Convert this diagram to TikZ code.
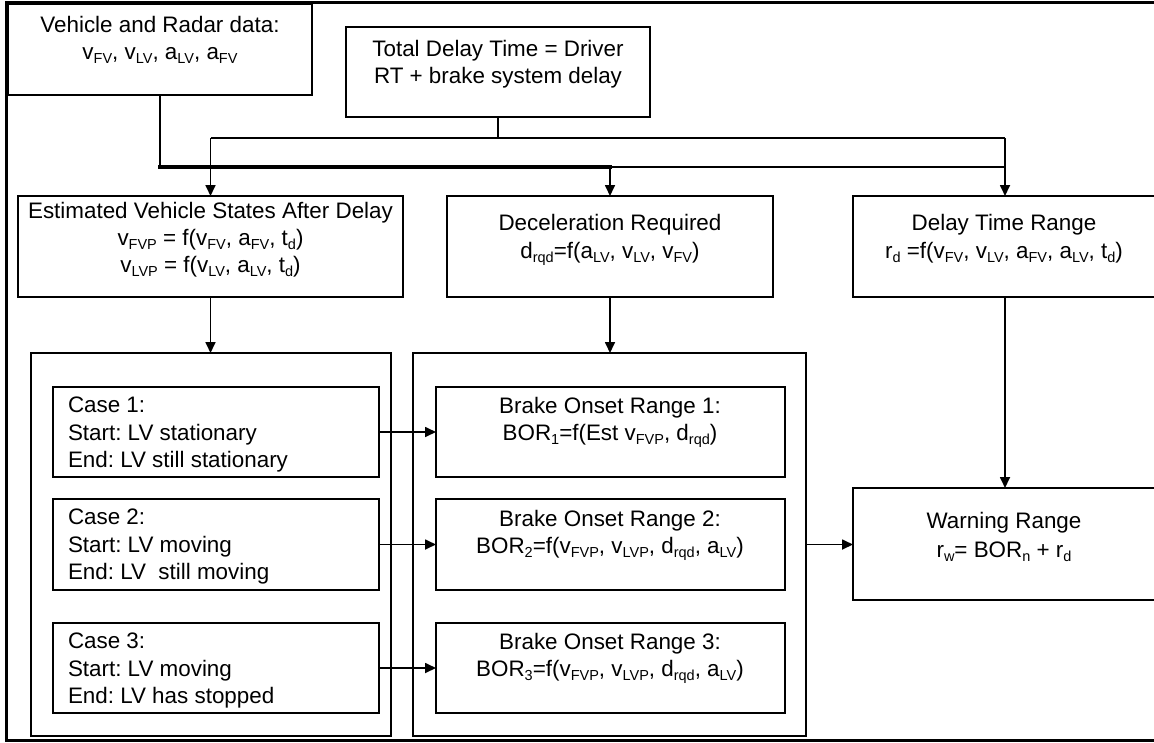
\documentclass[tikz,border=0pt]{standalone}
\usepackage{fontspec}
\setmainfont{Liberation Sans}
\usetikzlibrary{arrows.meta}
\frenchspacing
\newcommand{\sbs}[1]{\raisebox{-3.8pt}{\fontsize{14.5}{14.5}\selectfont #1}}
\newcommand{\bx}[5]{\node[box, minimum width={(#4)-(#2)}, minimum height={(#5)-(#3)}] (#1) at ({((#2)+(#4))/2},{((#3)+(#5))/2}) {};}
\begin{document}
\begin{tikzpicture}[x=1pt,y=-1pt,
  box/.style={draw, line width=1.4pt, rectangle, inner sep=0pt, outer sep=0pt},
  txt/.style={inner sep=0pt, outer sep=0pt, anchor=north, align=center, font=\fontsize{22.4}{27}\selectfont},
  ltxt/.style={txt, align=left, anchor=north west},
  conn/.style={line width=1.7pt},
  arr/.style={conn, -{Triangle[length=11pt,width=10pt]}},
  bus/.style={line width=3.2pt, line cap=rect},
  frame/.style={line width=3pt}
]
\useasboundingbox (0,0) rectangle (1154,742);
\clip (0,0) rectangle (1154,742);

% boxes
\bx{veh}{8}{4}{312}{95}
\bx{tot}{346}{27}{650}{117}
\bx{est}{18}{196}{403}{297}
\bx{dec}{447}{196}{773}{297}
\bx{dtr}{853}{196}{1157}{297}
\bx{cf}{31}{353}{391}{736}
\bx{bf}{413}{353}{806}{736}
\bx{c1}{53}{387}{379}{477}
\bx{c2}{53}{499}{379}{590}
\bx{c3}{53}{623}{379}{713}
\bx{b1}{436}{387}{785}{477}
\bx{b2}{436}{499}{785}{590}
\bx{b3}{436}{623}{785}{713}
\bx{warn}{853}{488}{1157}{600}

% texts
\node[txt] (vehT) at (160,16) {Vehicle and Radar data:\\v\sbs{FV}, v\sbs{LV}, a\sbs{LV}, a\sbs{FV}};
\node[txt] (totT) at (498,40) {Total Delay Time = Driver\\RT + brake system delay};
\node[txt] (estT) at (210.5,202) {Estimated Vehicle States After Delay\\v\sbs{FVP} = f(v\sbs{FV}, a\sbs{FV}, t\sbs{d})\\v\sbs{LVP} = f(v\sbs{LV}, a\sbs{LV}, t\sbs{d})};
\node[txt, font=\fontsize{22.4}{28}\selectfont] (decT) at (610,214) {Deceleration Required\\d\sbs{rqd}=f(a\sbs{LV}, v\sbs{LV}, v\sbs{FV})};
\node[txt, font=\fontsize{22.4}{28}\selectfont] (dtrT) at (1004,214) {Delay Time Range\\r\sbs{d} =f(v\sbs{FV}, v\sbs{LV}, a\sbs{FV}, a\sbs{LV}, t\sbs{d})};
\node[ltxt, font=\fontsize{22.4}{27.5}\selectfont] (c1T) at (68,397) {Case 1:\\Start: LV stationary\\End: LV still stationary};
\node[ltxt, font=\fontsize{22.4}{27.5}\selectfont] (c2T) at (68,509) {Case 2:\\Start: LV moving\\End: LV~ still moving};
\node[ltxt, font=\fontsize{22.4}{27.5}\selectfont] (c3T) at (68,633) {Case 3:\\Start: LV moving\\End: LV has stopped};
\node[txt] (b1T) at (610,397) {Brake Onset Range 1:\\BOR\sbs{1}=f(Est v\sbs{FVP}, d\sbs{rqd})};
\node[txt] (b2T) at (610,510) {Brake Onset Range 2:\\BOR\sbs{2}=f(v\sbs{FVP}, v\sbs{LVP}, d\sbs{rqd}, a\sbs{LV})};
\node[txt] (b3T) at (610,633) {Brake Onset Range 3:\\BOR\sbs{3}=f(v\sbs{FVP}, v\sbs{LVP}, d\sbs{rqd}, a\sbs{LV})};
\node[txt, font=\fontsize{22.4}{29}\selectfont] (warnT) at (1004,512) {Warning Range\\r\sbs{w}= BOR\sbs{n} + r\sbs{d}};

% bus levels
\coordinate (busA) at (0,167);
\coordinate (busB) at (0,138);

% connectors
\draw[line width=1.8pt] (veh.south) -- (veh.south |- busA);
\draw[bus] (veh.south |- busA) -- (dec.north |- busA);
\draw[conn] (dec.north |- busA) -- (dtr.north |- busA);
\draw[arr] (dec.north |- busA) -- (dec.north);
\draw[conn] (tot.south) -- (tot.south |- busB);
\draw[conn] (est.north |- busB) -- (dtr.north |- busB);
\draw[arr] (est.north |- busB) -- (est.north);
\draw[arr] (dtr.north |- busB) -- (dtr.north);
\draw[arr] (est.south) -- (est.south |- cf.north);
\draw[arr] (dec.south) -- (dec.south |- bf.north);
\draw[arr] (dtr.south) -- (dtr.south |- warn.north);
\draw[arr] (c1.east) -- (c1.east -| b1.west);
\draw[arr] (c2.east) -- (c2.east -| b2.west);
\draw[arr] (c3.east) -- (c3.east -| b3.west);
\draw[arr] (bf.east) -- (bf.east -| warn.west);

% outer frame (right side beyond picture)
\draw[frame] (1160,2) -- (6,2) -- (6,740.5) -- (1160,740.5);
\end{tikzpicture}
\end{document}
